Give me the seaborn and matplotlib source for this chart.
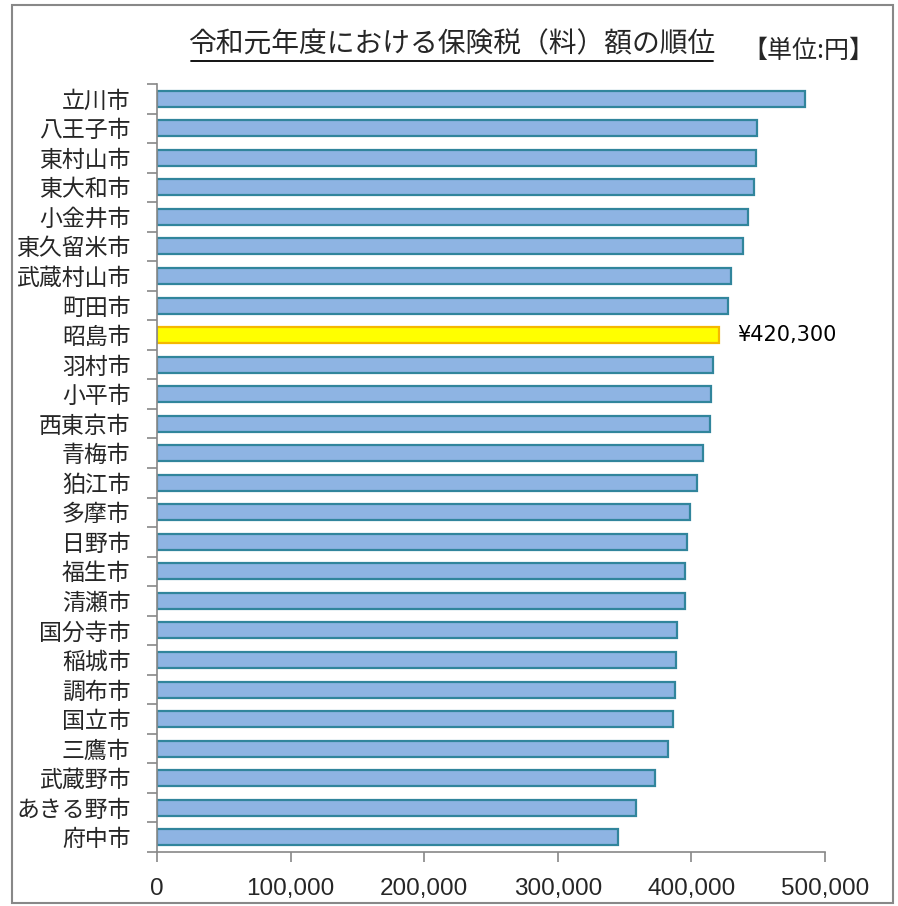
import matplotlib
matplotlib.use("Agg")
import matplotlib.pyplot as plt
import seaborn as sns
import numpy as np
from matplotlib.lines import Line2D
from matplotlib.patches import Rectangle
from matplotlib.ticker import FuncFormatter, FixedLocator

# ---------------------------------------------------------------
# DATOS
# ---------------------------------------------------------------

cities = [
    "立川市", "八王子市", "東村山市", "東大和市", "小金井市", "東久留米市",
    "武蔵村山市", "町田市", "昭島市", "羽村市", "小平市", "西東京市",
    "青梅市", "狛江市", "多摩市", "日野市", "福生市", "清瀬市",
    "国分寺市", "稲城市", "調布市", "国立市", "三鷹市", "武蔵野市",
    "あきる野市", "府中市",
]
amounts = [
    485000, 449100, 448600, 447100, 442400, 438600,
    429400, 427200, 420300, 416200, 414700, 413900,
    408700, 404200, 399000, 396700, 395200, 395000,
    389400, 388500, 388000, 386500, 382300, 372500,
    358500, 345100,
]
highlight = "昭島市"
x_ticks = [0, 100000, 200000, 300000, 400000, 500000]

title = "令和元年度における保険税（料）額の順位"
unit_label = "【単位:円】"

# ---------------------------------------------------------------
# ESTILO
# ---------------------------------------------------------------

sns.set_style("white")
plt.rcParams["font.family"] = ["Noto Sans CJK JP", "DejaVu Sans"]

bar_fill = "#8EB4E3"
bar_edge = "#31859C"
hi_fill = "#FFFF00"
hi_edge = "#F5B800"

palette = {c: (hi_fill if c == highlight else bar_fill) for c in cities}

fig = plt.figure(figsize=(8.98, 9.06), dpi=100)
ax = fig.add_axes([157 / 898, 1 - 852 / 906, 668 / 898, 768 / 906])

sns.barplot(x=amounts, y=cities, hue=cities, palette=palette, orient="h",
            width=0.54, legend=False, ax=ax, saturation=1)

for patch, city in zip(ax.patches, cities):
    patch.set_edgecolor(hi_edge if city == highlight else bar_edge)
    patch.set_linewidth(1.6)

# ejes
n = len(cities)
ax.set_xlim(0, 500000)
ax.set_ylim(n - 0.5, -0.5)
ax.set_xticks(x_ticks)
ax.xaxis.set_major_formatter(FuncFormatter(lambda v, p: f"{int(v):,}"))
ax.tick_params(axis="x", length=7, width=1.2, color="#888888", direction="out",
               pad=12, bottom=True)
for lbl in ax.get_xticklabels():
    lbl.set_family(["Liberation Sans Narrow", "Liberation Sans", "DejaVu Sans"])
    lbl.set_fontsize(17.5)

ax.yaxis.set_minor_locator(FixedLocator(np.arange(-0.5, n, 1.0)))
ax.tick_params(axis="y", which="major", length=0, pad=19, labelsize=16.5)
ax.tick_params(axis="y", which="minor", length=7, width=1.2, color="#888888",
               direction="out", left=True)
ax.set_xlabel("")
ax.set_ylabel("")

for side in ["top", "right"]:
    ax.spines[side].set_visible(False)
for side in ["left", "bottom"]:
    ax.spines[side].set_color("#888888")
    ax.spines[side].set_linewidth(1.2)

# etiqueta del valor destacado
idx = cities.index(highlight)
ax.text(amounts[idx] + 14000, idx, f"¥{amounts[idx]:,}", va="center", ha="left",
        fontsize=15, family=["DejaVu Sans"], color="black")

# título subrayado
t = fig.text(452 / 898, 1 - 44 / 906, title, ha="center", va="center", fontsize=20)
fig.text(808 / 898, 1 - 51 / 906, unit_label, ha="center", va="center", fontsize=18)

fig.canvas.draw()
bb = t.get_window_extent().transformed(fig.transFigure.inverted())
uy = bb.y0 - 0.002
fig.add_artist(Line2D([bb.x0 + 0.003, bb.x1 - 0.003], [uy, uy], color="black",
                      linewidth=1.3, transform=fig.transFigure))

# marco exterior
fig.add_artist(Rectangle((12 / 898, 3 / 906), 881 / 898, 898 / 906, fill=False,
                         edgecolor="#888888", linewidth=1.5, transform=fig.transFigure))

fig.savefig("out.png", dpi=100)
